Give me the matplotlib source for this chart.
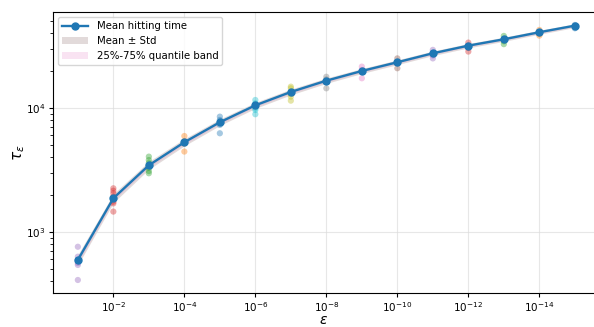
import numpy as np
import matplotlib.pyplot as plt
from matplotlib.ticker import NullLocator

# -------- Data -------- #
eps = [1e-1, 1e-2, 1e-3, 1e-4, 1e-5, 1e-6, 1e-7, 1e-8,
       1e-9, 1e-10, 1e-11, 1e-12, 1e-13, 1e-14, 1e-15]
mean_tau = [595, 1870, 3450, 5290, 7670, 10500, 13460, 16600,
            19870, 23370, 27600, 31800, 35800, 40800, 46100]
std_lo = [540, 1720, 3200, 4950, 7220, 9920, 12750, 15780,
          18960, 22350, 26430, 30520, 34420, 39300, 44500]
std_hi = [655, 2030, 3710, 5650, 8140, 11100, 14190, 17440,
          20790, 24420, 28800, 33100, 37230, 42350, 47760]
q25 = [560, 1790, 3320, 5100, 7420, 10180, 13070, 16160,
       19390, 22820, 26980, 31120, 35070, 40000, 45240]
q75 = [630, 1950, 3580, 5480, 7920, 10810, 13840, 17030,
       20350, 23920, 28210, 32480, 36520, 41610, 46960]
xticks = [1e-2, 1e-4, 1e-6, 1e-8, 1e-10, 1e-12, 1e-14]

# individual runs per epsilon
runs = [
    [760, 632, 594, 580, 562, 542, 410],
    [2250, 2150, 2050, 1925, 1850, 1755, 1700, 1460],
    [4050, 3800, 3600, 3450, 3280, 3100, 2975],
    [5940, 5400, 5290, 5150, 4450],
    [8510, 8000, 7700, 7300, 6250],
    [11600, 10900, 10500, 9950, 9630, 8900],
    [14850, 14400, 13530, 12900, 12330, 11450],
    [17850, 17000, 16300, 14400],
    [21550, 20250, 19800, 17350],
    [25100, 23400, 22900, 20900],
    [29400, 27600, 26500, 25100],
    [33650, 31800, 30500, 28500],
    [38100, 35800, 34500, 32700],
    [42600, 40800, 39500, 38300],
    [46700, 45500, 43900],
]

# -------- Plotting -------- #
fig = plt.figure(figsize=(5.94, 3.27), dpi=100)
# axes runs to the right edge of the picture
ax = fig.add_axes([53 / 594, 1 - 293 / 327, 541 / 594, 281 / 327])

colors = plt.rcParams['axes.prop_cycle'].by_key()['color']
for k in range(len(eps) - 1, -1, -1):
    c = colors[(len(eps) - 1 - k) % 10]
    ax.scatter([eps[k]] * len(runs[k]), runs[k], color=c, alpha=0.4, s=20,
               edgecolors='none', zorder=2)

ax.fill_between(eps, std_lo, std_hi, color='#8c6d6d', alpha=0.25,
                linewidth=0, label='Mean ± Std', zorder=1)
ax.fill_between(eps, q25, q75, color='#e377c2', alpha=0.2,
                linewidth=0, label='25%-75% quantile band', zorder=1)
ax.plot(eps, mean_tau, color='#1f77b4', marker='o', markersize=5,
        linewidth=1.7, label='Mean hitting time', zorder=3)

ax.set_xscale('log')
ax.set_yscale('log')
ax.set_xticks(xticks)
ax.xaxis.set_minor_locator(NullLocator())
ax.set_xlim(10 ** -0.3, 10 ** -15.54)
ax.set_ylim(322, 59400)
ax.spines['right'].set_visible(False)
ax.set_xlabel(r'$\varepsilon$', fontsize=10, labelpad=-1)
ax.set_ylabel(r'$\tau_\varepsilon$', fontsize=11, labelpad=-1)
ax.tick_params(labelsize=7.5, pad=2.5)
ax.tick_params(which='major', length=3)
ax.tick_params(which='minor', length=2)
ax.grid(True, which='major', color='#dddddd', alpha=0.7, linewidth=0.8)

handles, labels = ax.get_legend_handles_labels()
order = [labels.index('Mean hitting time'), labels.index('Mean ± Std'),
         labels.index('25%-75% quantile band')]
ax.legend([handles[i] for i in order], [labels[i] for i in order],
          loc='upper left', fontsize=7.3, handlelength=2.6)

fig.savefig('out.png', dpi=100)
